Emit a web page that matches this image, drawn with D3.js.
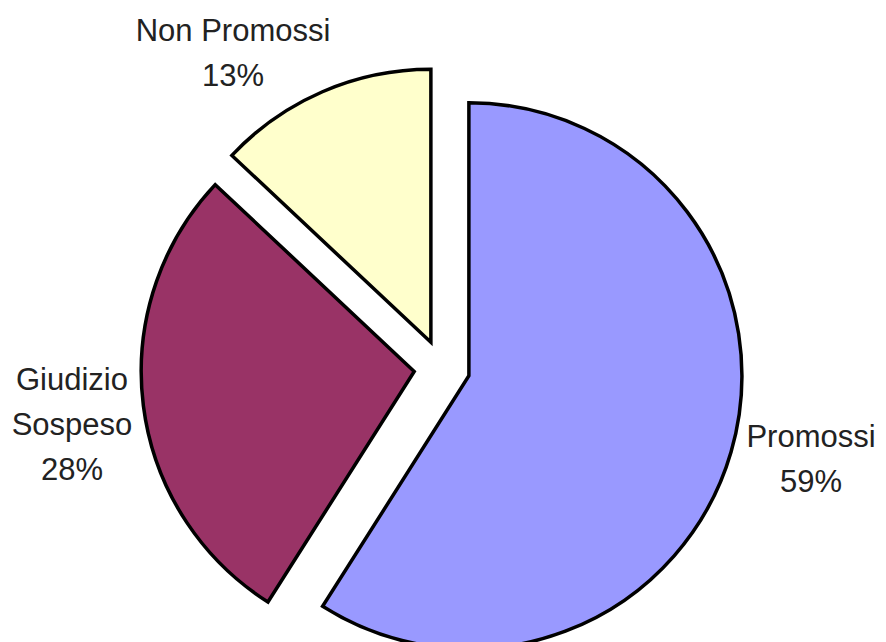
<!DOCTYPE html>
<html>
<head>
<meta charset="utf-8">
<script src="https://cdn.jsdelivr.net/npm/d3@7"></script>
<style>
  body { margin: 0; background: #fff; }
  svg { display: block; }
</style>
</head>
<body>
<svg id="chart" width="886" height="642"></svg>
<script>
// Data
var categories = ["Promossi", "Giudizio Sospeso", "Non Promossi"];
var values = [59, 28, 13];
var labelLines = [["Promossi", "59%"], ["Giudizio", "Sospeso", "28%"], ["Non Promossi", "13%"]];
var colors = ["#9999ff", "#993366", "#ffffcc"];

// Layout
var cx = 442, cy = 368, radius = 273, explode = 28;
var labelPos = [[811, 447], [72, 390], [233, 41]];
var lineStep = 45;

var svg = d3.select("#chart");

var pie = d3.pie().sort(null).value(function (d) { return d; });
var arc = d3.arc().innerRadius(0).outerRadius(radius);
var arcs = pie(values);

// Slices, each pushed out along its bisector
svg.selectAll("path.slice")
    .data(arcs)
    .enter()
    .append("path")
    .attr("class", "slice")
    .attr("d", arc)
    .attr("transform", function (d) {
        var mid = (d.startAngle + d.endAngle) / 2;
        var dx = cx + explode * Math.sin(mid);
        var dy = cy - explode * Math.cos(mid);
        return "translate(" + dx + "," + dy + ")";
    })
    .attr("fill", function (d, i) { return colors[i]; })
    .attr("stroke", "#000")
    .attr("stroke-width", 3.5)
    .attr("stroke-linejoin", "miter");

// Labels
labelLines.forEach(function (lines, i) {
    var t = svg.append("text")
        .attr("text-anchor", "middle")
        .attr("font-family", "'Liberation Sans', Arial, sans-serif")
        .attr("font-size", 31)
        .attr("fill", "#222");
    lines.forEach(function (line, j) {
        t.append("tspan")
            .attr("x", labelPos[i][0])
            .attr("y", labelPos[i][1] + j * lineStep)
            .text(line);
    });
});
</script>
</body>
</html>
